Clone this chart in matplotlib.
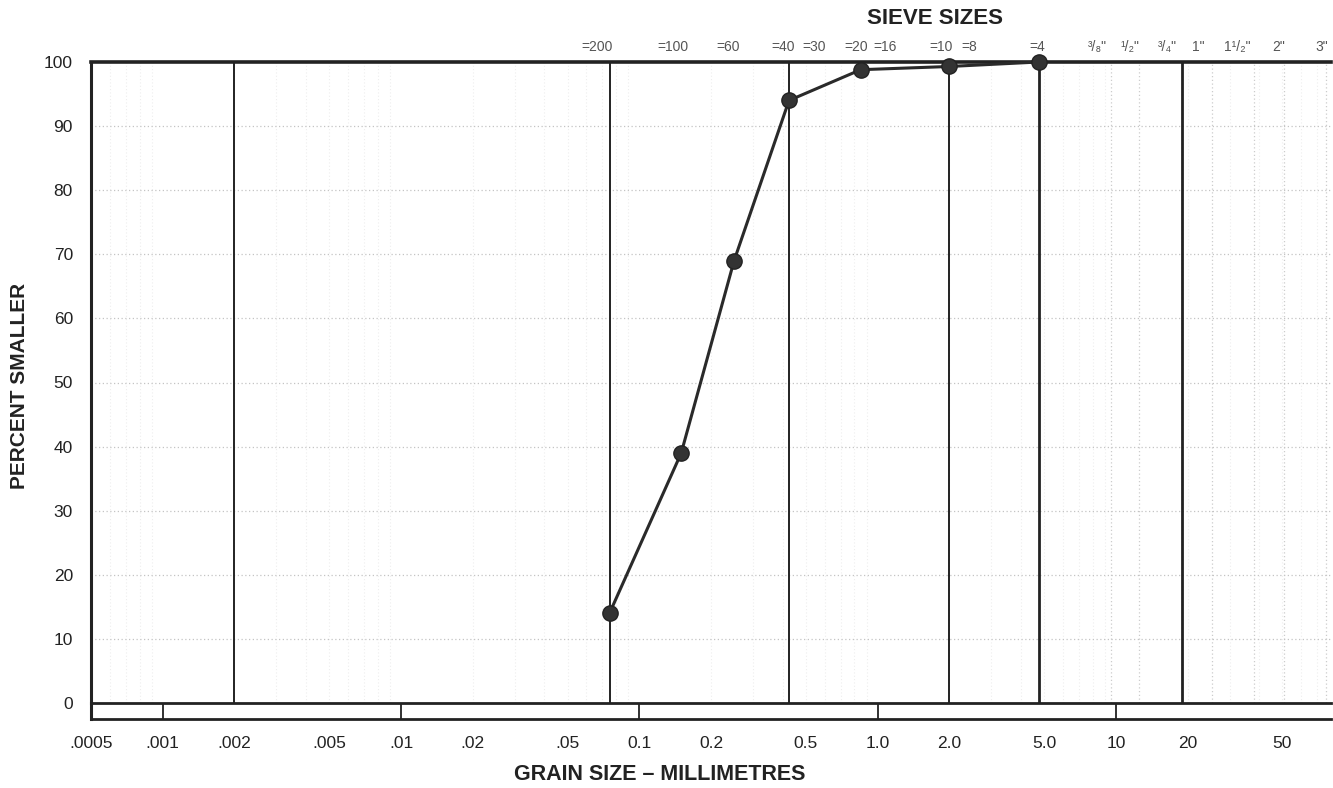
import numpy as np
import matplotlib
matplotlib.use("Agg")
import matplotlib.pyplot as plt

plt.rcParams['font.family'] = ['Liberation Sans', 'DejaVu Sans']

# ---- data ----
grain_size_mm = [0.075, 0.15, 0.25, 0.425, 0.85, 2.0, 4.75]
percent_smaller = [14, 39, 69, 94, 98.8, 99.3, 100]

sieve_sizes_mm = [0.075, 0.15, 0.25, 0.425, 0.6, 0.85, 1.18, 2.0, 2.36, 4.75,
                  9.5, 12.5, 19, 25.4, 38.1, 50.8, 76.2]
sieve_labels = ['=200', '=100', '=60', '=40', '=30', '=20', '=16', '=10', '=8', '=4',
                '³/₈"', '¹/₂"', '³/₄"', '1"', '1¹/₂"', '2"', '3"']

boundary_sizes = [0.002, 0.075, 0.425, 2.0, 4.75, 19]

xtick_values = [0.0005, 0.001, 0.002, 0.005, 0.01, 0.02, 0.05, 0.1, 0.2, 0.5,
                1.0, 2.0, 5.0, 10, 20, 50]
xtick_labels = ['.0005', '.001', '.002', '.005', '.01', '.02', '.05', '0.1', '0.2',
                '0.5', '1.0', '2.0', '5.0', '10', '20', '50']
decade_marks = [0.001, 0.01, 0.1, 1, 10]
yticks = list(range(0, 101, 10))

# ---- style ----
boundary_widths = [1.4, 1.4, 1.4, 1.4, 2.0, 2.0]
label_dx_px = [-12, -8, -6, -6, -11, -5, -10, -8, 3, -2, -13, -9, -15, -14, -17, -5, -4]

W, H = 1333, 788
fig = plt.figure(figsize=(W / 100, H / 100), dpi=100)
fig.patch.set_facecolor('white')

x0, x1 = 91, 1331
ytop, ybot = 62, 703
ax = fig.add_axes([x0 / W, 1 - ybot / H, (x1 - x0) / W, (ybot - ytop) / H])
ax.set_xscale('log')
ax.set_xlim(0.0005, 80)
ax.set_ylim(0, 100)

# faint grid
minor_x = [m * 10.0 ** e for e in range(-4, 2) for m in range(2, 10)]
for v in minor_x:
    if 0.0005 < v < 80:
        ax.axvline(v, color='#eeeeee', lw=0.8, ls=(0, (1, 2)), zorder=0)
for v in sieve_sizes_mm[10:]:
    ax.axvline(v, color='#cccccc', lw=0.9, ls=(0, (1, 2)), zorder=0)
for yv in yticks[1:-1]:
    ax.axhline(yv, color='#c4c4c4', lw=0.9, ls=(0, (1, 2)), zorder=0)

# boundary lines
for b, lw in zip(boundary_sizes, boundary_widths):
    ax.axvline(b, color='#222222', lw=lw, zorder=2)

# curve
ax.plot(grain_size_mm, percent_smaller, color='#2a2a2a', lw=2.2, marker='o',
        markersize=11, markerfacecolor='#333333', markeredgecolor='#222222',
        zorder=5, clip_on=False)

ax.spines['left'].set_linewidth(2.2)
ax.spines['top'].set_linewidth(2.6)
ax.spines['bottom'].set_linewidth(2.0)
ax.spines['right'].set_visible(False)
for s in ax.spines.values():
    s.set_color('#222222')

ax.set_yticks(yticks)
ax.set_yticklabels([str(v) for v in yticks], fontsize=12.5, color='#222222')
ax.tick_params(axis='y', length=0, pad=13)
ax.set_xticks([])
ax.set_xticks([], minor=True)
ax.tick_params(axis='x', which='both', length=0, labelbottom=False)

# sieve labels on top
for v, lab, dx in zip(sieve_sizes_mm, sieve_labels, label_dx_px):
    ax.annotate(lab, xy=(v, 100), xycoords=('data', 'data'), xytext=(dx, 8),
                textcoords='offset pixels', ha='center', va='bottom',
                fontsize=10, color='#555555', annotation_clip=False)

# bottom strip with decade marks
ax2 = fig.add_axes([x0 / W, 1 - 719 / H, (x1 - x0) / W, 16 / H])
ax2.set_xscale('log')
ax2.set_xlim(0.0005, 80)
ax2.set_ylim(0, 1)
ax2.patch.set_alpha(0)
for d in decade_marks:
    ax2.axvline(d, color='#222222', lw=1.3)
ax2.spines['top'].set_visible(False)
ax2.spines['right'].set_visible(False)
ax2.spines['left'].set_linewidth(2.2)
ax2.spines['bottom'].set_linewidth(2.0)
for s in ax2.spines.values():
    s.set_color('#222222')
ax2.set_yticks([])
ax2.set_xticks(xtick_values)
ax2.set_xticklabels(xtick_labels, fontsize=12.5, color='#222222')
ax2.set_xticks([], minor=True)
ax2.tick_params(axis='x', which='both', length=0, pad=12)

fig.text(935 / W, 1 - 19 / H, 'SIEVE SIZES', ha='center', va='center',
         fontsize=16, fontweight='bold', color='#222222')
fig.text(20 / W, 1 - 386 / H, 'PERCENT SMALLER', ha='center', va='center',
         rotation=90, fontsize=15, fontweight='bold', color='#222222')
fig.text(660 / W, 1 - 775 / H, 'GRAIN SIZE – MILLIMETRES', ha='center', va='center',
         fontsize=15.5, fontweight='bold', color='#222222')

fig.savefig('out.png', dpi=100, facecolor='white')
